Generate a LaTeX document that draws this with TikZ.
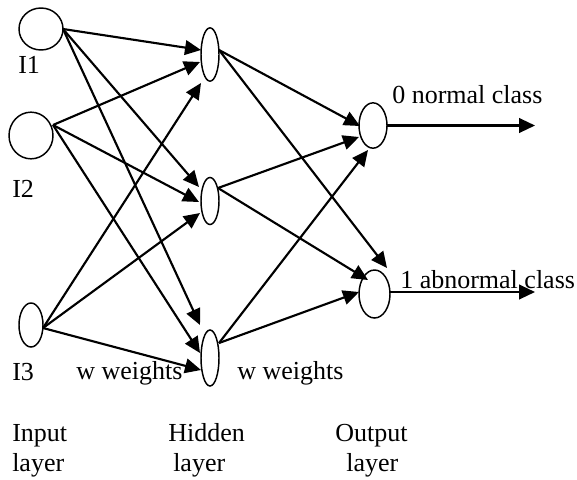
\documentclass[tikz,border=0pt]{standalone}
\usepackage{fontspec}
\setmainfont{Liberation Serif}
\usetikzlibrary{arrows.meta,calc,shapes.geometric}
\begin{document}
\begin{tikzpicture}[x=0.75pt,y=-0.75pt,
  neuron/.style={draw,ellipse,line width=1.1pt,inner sep=0pt},
  link/.style={line width=1.6pt,-{Triangle[length=12pt,width=11pt]}},
  lbl/.style={anchor=base west,inner sep=0pt,font=\fontsize{19.5}{23}\selectfont}]
\useasboundingbox (0,0) rectangle (577,479);

% input layer
\node[neuron,minimum width=33pt,minimum height=31.5pt] (I1) at (41,29) {};
\node[neuron,minimum width=33pt,minimum height=35pt] (I2) at (31,135.5) {};
\node[neuron,minimum width=18pt,minimum height=33pt] (I3) at (31,325) {};
% hidden layer
\node[neuron,minimum width=13.5pt,minimum height=40pt] (H1) at (210,54.5) {};
\node[neuron,minimum width=13.5pt,minimum height=35.25pt] (H2) at (210,201) {};
\node[neuron,minimum width=13.5pt,minimum height=42pt] (H3) at (210,358) {};
% output layer
\node[neuron,minimum width=21pt,minimum height=34pt] (O1) at (373,125.5) {};
\node[neuron,minimum width=23.25pt,minimum height=36pt] (O2) at (374.5,294) {};

\coordinate (out0) at (535,125.5);
\coordinate (out1) at (535,292);

% input -> hidden
\draw[link] ($(I1)+(22,0)$) -- ($(H1)+(-9,-4.5)$);
\draw[link] ($(I1)+(22,0)$) -- ($(H2)+(-11,-14)$);
\draw[link] ($(I1)+(22,0)$) -- ($(H3)+(-10,-33)$);
\draw[link] ($(I2)+(22,-10.5)$) -- ($(H1)+(-10,7.5)$);
\draw[link] ($(I2)+(22,-10.5)$) -- ($(H2)+(-11,1)$);
\draw[link] ($(I2)+(22,-10.5)$) -- ($(H3)+(-10,-5)$);
\draw[link] ($(I3)+(12,3)$) -- ($(H1)+(-9,28.5)$);
\draw[link] ($(I3)+(12,3)$) -- ($(H2)+(-10,12)$);
\draw[link] ($(I3)+(12,3)$) -- ($(H3)+(-9,12)$);

% hidden -> output
\draw[link] ($(H1)+(9,-4.5)$) -- ($(O1)+(-13,0.5)$);
\draw[link] ($(H1)+(9,-4.5)$) -- ($(O2)+(12.5,-26)$);
\draw[link] ($(H2)+(8,-13)$) -- ($(O1)+(-14,11.5)$);
\draw[link] ($(H2)+(8,-13)$) -- ($(O2)+(-6.5,-14)$);
\draw[link] ($(H3)+(9,-15)$) -- ($(O1)+(-5,24.5)$);
\draw[link] ($(H3)+(9,-15)$) -- ($(O2)+(-15.5,-2)$);

% outputs
\draw[link] ($(O1)+(14,0)$) -- (out0);
\draw[link] ($(O2)+(15.5,-2)$) -- (out1);

% labels
\node[lbl] (tI1) at (18,73) {I1};
\node[lbl] (tI2) at (12,197) {I2};
\node[lbl] (tI3) at (12,380) {I3};
\node[lbl] (tw1) at (76,379) {w weights};
\node[lbl] (tw2) at (237,379) {w weights};
\node[lbl] (tc0) at (392,103) {0 normal class};
\node[lbl] (tc1) at (400,288) {1 abnormal class};
\node[lbl] (tin1) at (12,441) {Input};
\node[lbl] (tin2) at (12,471) {layer};
\node[lbl] (thd1) at (168,441) {Hidden};
\node[lbl] (thd2) at (173,471) {layer};
\node[lbl] (tou1) at (335,441) {Output};
\node[lbl] (tou2) at (346,471) {layer};
\end{tikzpicture}
\end{document}
